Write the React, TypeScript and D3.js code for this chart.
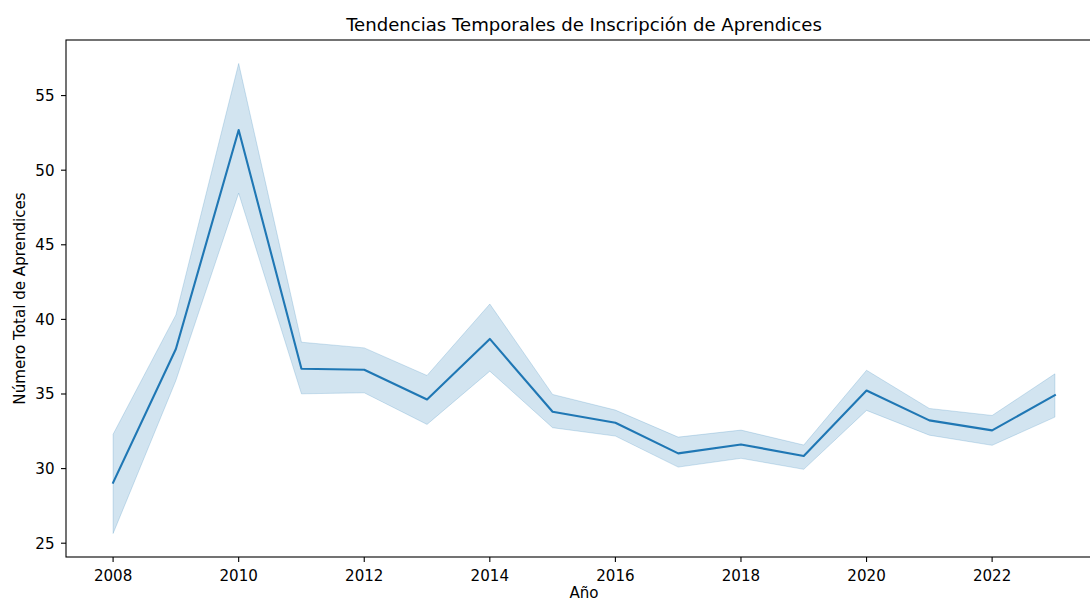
import React from "react";
import * as d3 from "d3";

const years = [2008, 2009, 2010, 2011, 2012, 2013, 2014, 2015, 2016, 2017, 2018, 2019, 2020, 2021, 2022, 2023];
const meanValues = [29.06, 38.02, 52.69, 36.69, 36.62, 34.63, 38.69, 33.81, 33.07, 31.02, 31.62, 30.84, 35.23, 33.23, 32.56, 34.92];
const upperValues = [32.3, 40.3, 57.15, 38.47, 38.09, 36.24, 41.03, 34.97, 33.92, 32.11, 32.58, 31.58, 36.59, 34.03, 33.56, 36.35];
const lowerValues = [25.65, 35.9, 48.46, 35.01, 35.08, 32.96, 36.53, 32.74, 32.18, 30.1, 30.69, 29.95, 33.9, 32.24, 31.56, 33.45];
const xTicks = [2008, 2010, 2012, 2014, 2016, 2018, 2020, 2022];
const yTicks = [25, 30, 35, 40, 45, 50, 55];

const W = 1090;
const H = 601;
const left = 66;
const right = 1102;
const top = 40;
const bottom = 557;
const FONT = "DejaVu Sans, sans-serif";
const TICK_FS = 15.1;

export default function App() {
  const x = d3.scaleLinear().domain([2007.25, 2023.75]).range([left, right]);
  const ymin = d3.min(lowerValues)!;
  const ymax = d3.max(upperValues)!;
  const pad = (ymax - ymin) * 0.05;
  const y = d3.scaleLinear().domain([ymin - pad, ymax + pad]).range([bottom, top]);

  const data = years.map((yr, i) => ({ yr, m: meanValues[i], lo: lowerValues[i], hi: upperValues[i] }));
  const area = d3.area<any>().x((d) => x(d.yr)).y0((d) => y(d.lo)).y1((d) => y(d.hi));
  const line = d3.line<any>().x((d) => x(d.yr)).y((d) => y(d.m));

  return (
    <svg width={W} height={H} style={{ position: "absolute", left: 0, top: 0, background: "#fff" }} fontFamily={FONT}>
      <rect x={0} y={0} width={W} height={H} fill="#fff" />
      <path d={area(data)!} fill="#1f77b4" fillOpacity={0.2} stroke="#1f77b4" strokeOpacity={0.2} strokeWidth={1} />
      <path d={line(data)!} fill="none" stroke="#1f77b4" strokeWidth={2.1} strokeLinejoin="round" strokeLinecap="square" />
      <rect x={left} y={top} width={right - left} height={bottom - top} fill="none" stroke="#000" strokeWidth={1.1} />
      {xTicks.map((t) => (
        <g key={t}>
          <line x1={x(t)} x2={x(t)} y1={bottom} y2={bottom + 5} stroke="#000" strokeWidth={1.1} />
          <text x={x(t)} y={581} textAnchor="middle" fontSize={TICK_FS} fill="#000">{t}</text>
        </g>
      ))}
      {yTicks.map((t) => (
        <g key={t}>
          <line x1={left - 5} x2={left} y1={y(t)} y2={y(t)} stroke="#000" strokeWidth={1.1} />
          <text x={left - 11.5} y={y(t)} dy="0.36em" textAnchor="end" fontSize={TICK_FS} fill="#000">{t}</text>
        </g>
      ))}
      <text x={(left + right) / 2} y={30.5} textAnchor="middle" fontSize={18.1} fill="#000">
        Tendencias Temporales de Inscripción de Aprendices
      </text>
      <text x={(left + right) / 2} y={597.5} textAnchor="middle" fontSize={TICK_FS} fill="#000">Año</text>
      <text transform={`translate(25, ${(top + bottom) / 2}) rotate(-90)`} textAnchor="middle" fontSize={TICK_FS} fill="#000">
        Número Total de Aprendices
      </text>
    </svg>
  );
}
